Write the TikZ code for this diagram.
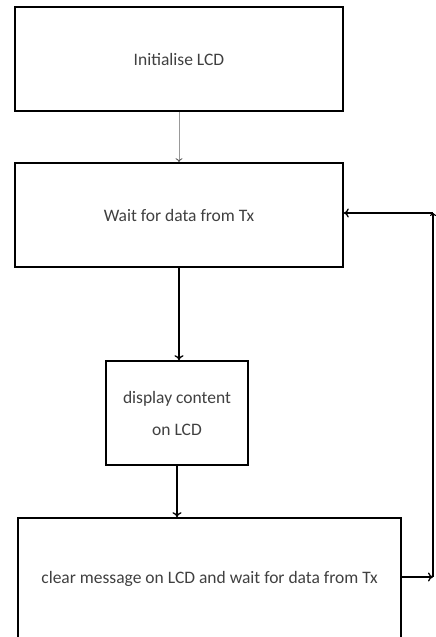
\documentclass[tikz,border=0pt]{standalone}
\usepackage{fontspec}
\setmainfont{Carlito}
\usetikzlibrary{arrows.meta}
\begin{document}
\begin{tikzpicture}[x=1pt,y=-1pt,
  box/.style={draw=black,line width=1.6pt,fill=white,inner sep=0pt,align=center,font=\fontsize{17.5}{32}\selectfont\color{black!75}},
  conn/.style={line width=1.3pt,-{To[length=5pt,width=9pt]}},
  gconn/.style={line width=0.8pt,draw=black!40,-{To[length=4pt,width=7pt,color=black!70]}}]
\useasboundingbox (0,0) rectangle (436,637);
\clip (0,0) rectangle (436,637);
\node[box,minimum width=328pt,minimum height=104pt] (init) at (179,59) {Initialise LCD};
\node[box,minimum width=328pt,minimum height=104pt] (wait) at (179,215) {Wait for data from Tx};
\node[box,minimum width=142pt,minimum height=104pt] (disp) at (177,413) {display content\\on LCD};
\node[box,minimum width=383pt,minimum height=122pt] (clear) at (209.5,579) {clear message on LCD and wait for data from Tx};
\coordinate (r1) at (433,577);
\coordinate (r2) at (433,213);
\draw[gconn] (init.south) -- (init.south |- wait.north);
\draw[conn] (wait.south) -- (wait.south |- disp.north);
\draw[conn] (disp.south) -- (disp.south |- clear.north);
\draw[conn] (clear.east |- r1) -- (r1);
\draw[line width=1.1pt,-{To[length=3pt,width=6pt]}] (r1) -- (r2);
\draw[conn] (r2) -- (r2 -| wait.east);
\end{tikzpicture}
\end{document}
